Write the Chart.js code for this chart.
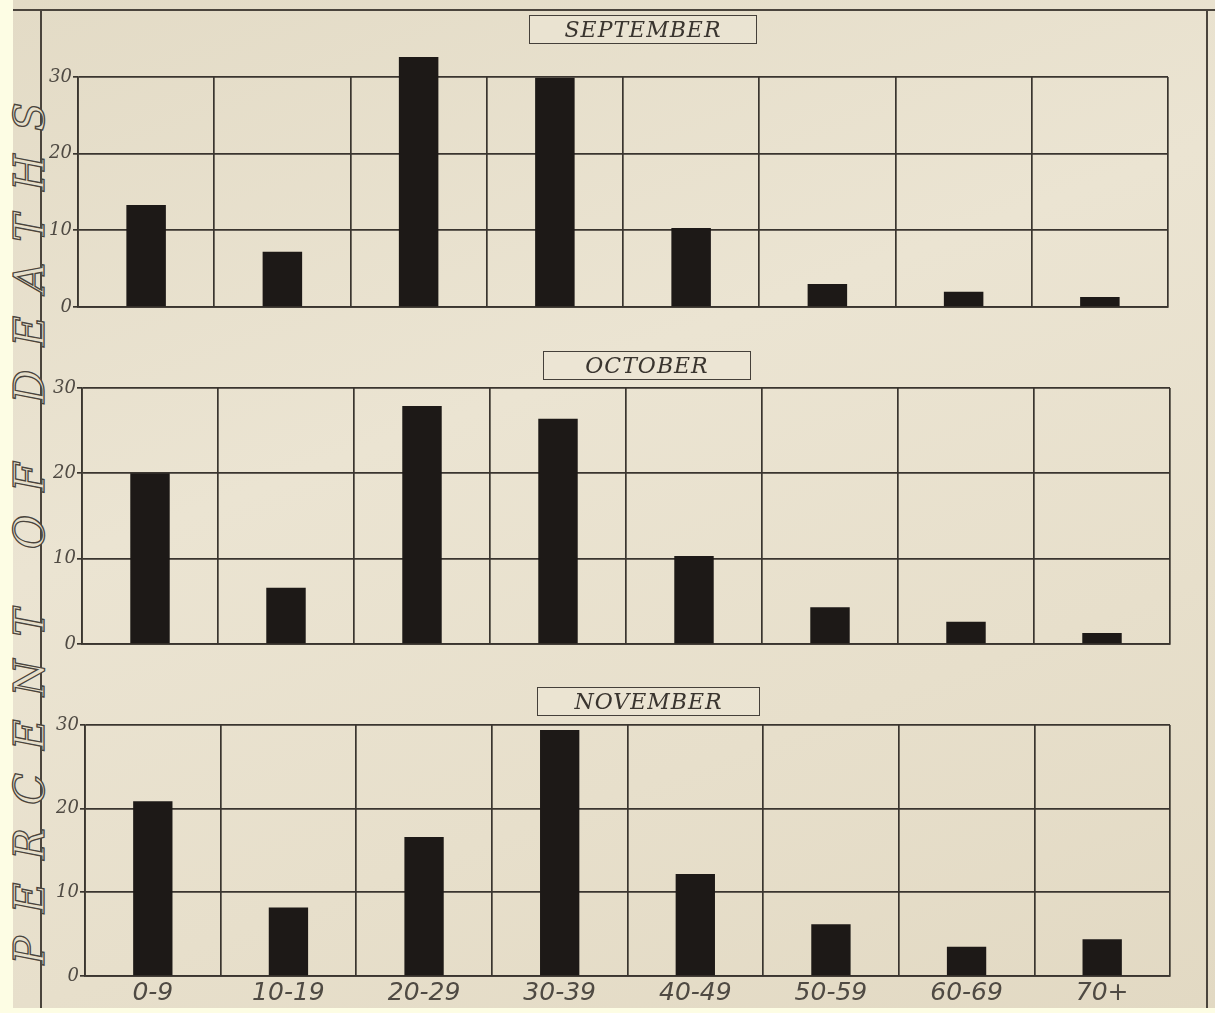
<!DOCTYPE html>
<html>
<head>
<meta charset="utf-8">
<script src="https://cdn.jsdelivr.net/npm/chart.js@4.4.1/dist/chart.umd.min.js"></script>
<style>
  html, body { margin: 0; padding: 0; }
  body { width: 1215px; height: 1013px; background: #fdfde4; position: relative; overflow: hidden; }
  #paper {
    position: absolute; left: 13px; top: 0; width: 1202px; height: 1008px;
    background: linear-gradient(160deg, #e3dbc6 0%, #ebe4d2 40%, #e7dfcb 70%, #e2d9c3 100%);
  }
  .rule { position: absolute; background: #4a443c; }
  .panel { position: absolute; }
  .title {
    position: absolute; border: 1.5px solid #45403a; text-align: center;
    font-family: 'DejaVu Serif', serif; font-style: italic; font-size: 22px;
    letter-spacing: 1px; color: #3a352f; line-height: 27px; background: rgba(236,230,214,0.6);
  }
  #ylabel {
    position: absolute; left: 29px; top: 522px; width: 900px; text-align: center;
    transform: translate(-50%, -50%) rotate(-90deg);
    font-family: 'DejaVu Serif', serif; font-style: italic; font-size: 42px;
    letter-spacing: 23px; color: #e6dfcb; -webkit-text-stroke: 1.3px #4a443c;
    white-space: nowrap;
  }
</style>
</head>
<body>
<div id="paper"></div>
<div class="rule" style="left:13px; top:9px; width:1202px; height:2px;"></div>
<div class="rule" style="left:40px; top:9px; width:2px; height:999px;"></div>
<div class="rule" style="left:1206px; top:9px; width:2px; height:999px;"></div>
<div id="ylabel">PERCENT OF DEATHS</div>

<div class="panel" style="left:42px; top:40px;"><canvas id="sep" width="1132" height="280"></canvas></div>
<div class="panel" style="left:42px; top:370px;"><canvas id="oct" width="1134" height="290"></canvas></div>
<div class="panel" style="left:42px; top:705px;"><canvas id="nov" width="1134" height="305"></canvas></div>

<div class="title" style="left:529px; top:15px; width:226px; height:27px;">SEPTEMBER</div>
<div class="title" style="left:543px; top:351px; width:206px; height:27px;">OCTOBER</div>
<div class="title" style="left:537px; top:687px; width:221px; height:27px;">NOVEMBER</div>

<script>
  // age groups along the x-axis
  const ageGroups = ['0-9', '10-19', '20-29', '30-39', '40-49', '50-59', '60-69', '70+'];
  // percent of deaths per month
  const september = [13.3, 7.2, 32.6, 29.9, 10.3, 3.0, 2.0, 1.3];
  const october = [20.0, 6.6, 27.9, 26.4, 10.3, 4.3, 2.6, 1.3];
  const november = [20.9, 8.2, 16.6, 29.4, 12.2, 6.2, 3.5, 4.4];
  // y-axis tick values
  const yTicks = [0, 10, 20, 30];

  const lineColor = '#3a352f';
  const inkColor = '#1d1917';
  const labelColor = '#4f4a43';

  const makePanel = (id, values, cfg) => {
    const ctx = document.getElementById(id);
    return new Chart(ctx, {
      type: 'bar',
      data: {
        labels: ageGroups,
        datasets: [{
          data: values,
          backgroundColor: inkColor,
          borderWidth: 0,
          barPercentage: 0.29,
          categoryPercentage: 1,
          clip: false
        }]
      },
      options: {
        responsive: false,
        animation: false,
        layout: { padding: { top: cfg.top, right: 6, bottom: cfg.bottom, left: 0 } },
        plugins: { legend: { display: false }, tooltip: { enabled: false } },
        scales: {
          x: {
            grid: { color: lineColor, lineWidth: 1.7, drawTicks: false, offset: true },
            border: { color: lineColor, width: 1.7 },
            ticks: {
              display: cfg.showX,
              color: labelColor,
              padding: 2,
              font: { family: 'DejaVu Sans', style: 'italic', size: 25 }
            },
            afterFit: scale => { scale.height = cfg.xHeight; }
          },
          y: {
            min: yTicks[0],
            max: yTicks[yTicks.length - 1],
            afterBuildTicks: scale => { scale.ticks = yTicks.map(v => ({ value: v })); },
            grid: { color: lineColor, lineWidth: 1.7, tickLength: 5 },
            border: { color: lineColor, width: 1.7 },
            ticks: {
              color: labelColor,
              padding: 1,
              font: { family: 'DejaVu Serif', style: 'italic', size: 18 }
            },
            afterFit: scale => { scale.width = cfg.yWidth; }
          }
        }
      }
    });
  };

  makePanel('sep', september, { top: 37, bottom: 13, showX: false, xHeight: 0, yWidth: 36 });
  makePanel('oct', october, { top: 18, bottom: 16, showX: false, xHeight: 0, yWidth: 40 });
  makePanel('nov', november, { top: 20, bottom: 0, showX: true, xHeight: 34, yWidth: 43 });
</script>
</body>
</html>
